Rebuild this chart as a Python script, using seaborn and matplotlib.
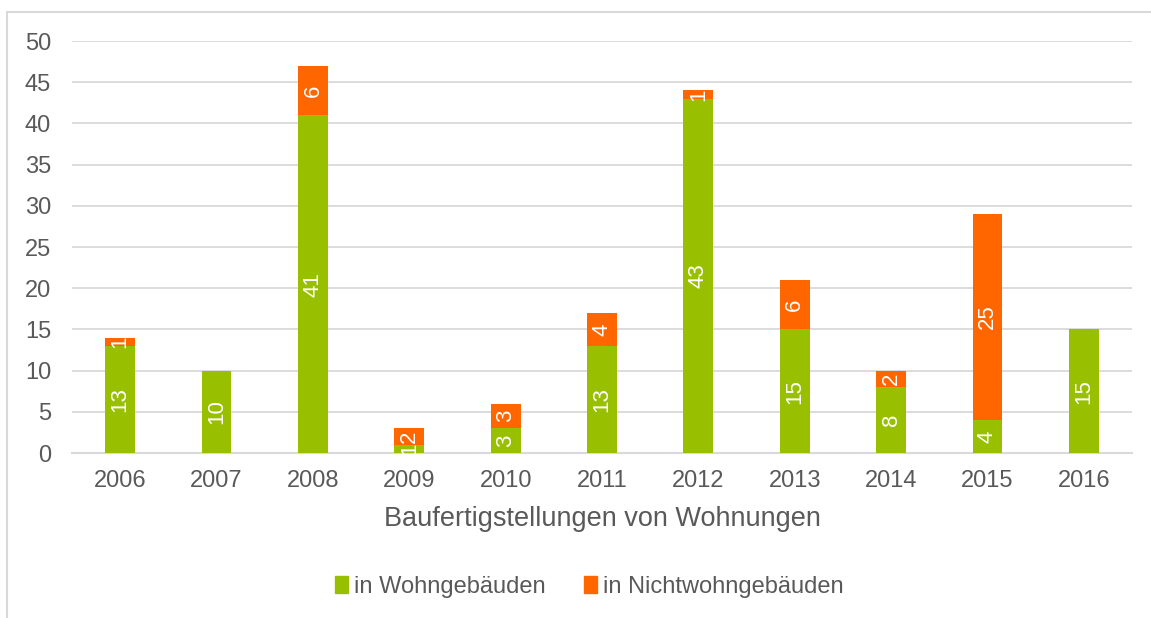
import numpy as np
import pandas as pd
import matplotlib
matplotlib.use("Agg")
import matplotlib.pyplot as plt
import seaborn as sns
from matplotlib.patches import Rectangle, Patch

jahre = ["2006", "2007", "2008", "2009", "2010", "2011", "2012", "2013", "2014", "2015", "2016"]
wohngebaeude = [13, 10, 41, 1, 3, 13, 43, 15, 8, 4, 15]
nichtwohngebaeude = [1, 0, 6, 2, 3, 4, 1, 6, 2, 25, 0]

gruen = "#99C000"
orange = "#FF6600"
grau = "#595959"
linie = "#D9D9D9"

sns.set_theme(style="white")
plt.rcParams["font.family"] = ["Liberation Sans", "DejaVu Sans"]

df = pd.DataFrame({"Jahr": jahre, "Wohn": wohngebaeude, "Nichtwohn": nichtwohngebaeude})
df["Gesamt"] = df["Wohn"] + df["Nichtwohn"]

fig = plt.figure(figsize=(11.51, 6.18), dpi=100)
ax = fig.add_axes([72 / 1151, 1 - 453 / 618, 1060 / 1151, 412 / 618])

# gesamthoehe in orange, gruen darueber -> gestapelt
sns.barplot(data=df, x="Jahr", y="Gesamt", color=orange, width=0.31, saturation=1,
            linewidth=0, ax=ax, zorder=3)
sns.barplot(data=df, x="Jahr", y="Wohn", color=gruen, width=0.31, saturation=1,
            linewidth=0, ax=ax, zorder=4)

# werte beschriften
gruen_bars = ax.containers[1]
ax.bar_label(gruen_bars, labels=[str(v) if v > 0 else "" for v in wohngebaeude],
             label_type="center", rotation=90, color="white", fontsize=16, zorder=6)
for i, (w, n) in enumerate(zip(wohngebaeude, nichtwohngebaeude)):
    if n > 0:
        ax.text(i, w + n / 2, str(n), rotation=90, ha="center", va="center",
                color="white", fontsize=16, zorder=6)

ax.set_ylim(0, 50)
ax.set_xlim(-0.5, 10.5)
ax.set_yticks(range(0, 51, 5))
ax.yaxis.grid(True, color=linie, linewidth=1.3, zorder=0)
ax.set_axisbelow(True)
for s in ["top", "right", "left"]:
    ax.spines[s].set_visible(False)
ax.spines["bottom"].set_color(linie)
ax.spines["bottom"].set_linewidth(1.5)
ax.tick_params(axis="both", length=0, labelsize=17, labelcolor=grau)
ax.tick_params(axis="y", pad=15)
ax.tick_params(axis="x", pad=12)
ax.set_ylabel("")
ax.set_xlabel("Baufertigstellungen von Wohnungen", fontsize=19.5, color=grau, labelpad=10)

handles = [Patch(color=gruen, label="in Wohngebäuden"),
           Patch(color=orange, label="in Nichtwohngebäuden")]
fig.legend(handles=handles, loc="center", bbox_to_anchor=(0.512, 1 - 587 / 618), ncol=2,
           frameon=False, fontsize=17, labelcolor=grau, handlelength=0.55, handleheight=0.75,
           handletextpad=0.25, columnspacing=1.6)

# rahmen des diagrammbereichs
fig.patches.append(Rectangle((7 / 1151, -0.1), 1.2, 1.1 - 12 / 618, transform=fig.transFigure,
                             fill=False, edgecolor=linie, linewidth=1.5))

fig.savefig("out.png", dpi=100)
